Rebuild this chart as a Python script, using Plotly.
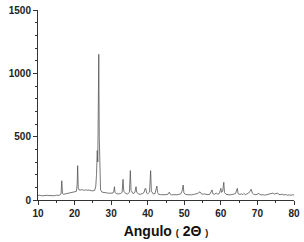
import plotly.graph_objects as go

two_theta = [10.0, 10.5, 11.0, 11.5, 12.0, 12.5, 13.0, 13.5, 14.0, 14.5, 15.0, 15.5, 16.0, 16.3, 16.5, 16.7,
             17.0, 17.5, 18.0, 18.5, 19.0, 19.5, 20.0, 20.5, 20.7, 20.85, 21.0, 21.2, 21.5, 22.0, 22.5, 23.0,
             23.5, 24.0, 24.5, 25.0, 25.5, 25.8, 26.0, 26.2, 26.35, 26.5, 26.62, 26.75, 26.9, 27.1, 27.5,
             28.0, 28.5, 29.0, 29.5, 30.0, 30.5, 30.75, 30.9, 31.05, 31.5, 32.0, 32.5, 33.0, 33.25, 33.45,
             34.0, 34.5, 35.0, 35.25, 35.45, 36.0, 36.5, 36.8, 37.0, 37.5, 38.0, 38.5, 39.0, 39.3, 39.5, 39.7,
             40.0, 40.5, 40.8, 41.0, 41.5, 42.0, 42.5, 42.7, 43.0, 43.5, 44.0, 44.5, 45.0, 45.5, 45.9, 46.2,
             46.5, 47.0, 47.5, 48.0, 48.5, 49.0, 49.4, 49.7, 49.9, 50.3, 50.8, 51.5, 52.0, 52.5, 53.0, 53.5,
             54.0, 54.3, 54.6, 55.0, 55.5, 56.0, 56.5, 57.0, 57.3, 57.6, 57.8, 58.2, 58.8, 59.1, 59.6, 60.0,
             60.2, 60.5, 60.8, 61.0, 61.4, 62.0, 62.5, 63.0, 63.5, 64.0, 64.5, 64.7, 65.2, 65.6, 66.0, 66.3,
             66.7, 67.2, 67.6, 68.0, 68.3, 68.6, 69.0, 69.5, 70.0, 70.3, 70.6, 71.0, 71.5, 72.0, 72.5, 73.0,
             73.5, 74.0, 74.3, 74.6, 75.0, 75.5, 75.8, 76.2, 76.7, 77.2, 77.7, 78.2, 78.7, 79.2, 79.6, 80.0]

intensity = [35, 38, 33, 36, 34, 37, 35, 33, 36, 34, 38, 36, 40, 48, 152, 50,
             45, 48, 50, 52, 55, 58, 60, 68, 120, 271, 95, 80, 78, 82, 76, 80,
             77, 79, 74, 72, 76, 110, 200, 390, 300, 700, 1150, 500, 150, 80, 62,
             58, 56, 55, 53, 52, 55, 70, 105, 60, 50, 48, 50, 60, 163, 70,
             50, 48, 60, 232, 75, 50, 60, 105, 60, 48, 45, 50, 60, 92, 88, 55,
             48, 62, 232, 70, 48, 50, 110, 60, 45, 42, 40, 43, 42, 45, 62, 44,
             40, 42, 39, 41, 44, 48, 70, 118, 55, 45, 42, 40, 41, 44, 46, 50,
             58, 65, 50, 46, 48, 44, 42, 46, 60, 80, 50, 45, 55, 45, 52, 92,
             60, 70, 140, 60, 45, 42, 40, 43, 45, 50, 92, 50, 44, 48, 42, 52,
             42, 48, 55, 70, 85, 55, 45, 42, 45, 55, 44, 40, 42, 38, 41, 44,
             48, 52, 55, 46, 50, 55, 45, 42, 46, 40, 43, 38, 40, 37, 42, 38]

x_ticks = [10, 20, 30, 40, 50, 60, 70, 80]
y_ticks = [0, 500, 1000, 1500]

fig = go.Figure(go.Scatter(x=two_theta, y=intensity, mode="lines",
                           line=dict(color="#555555", width=0.8)))

axis_common = dict(showline=True, linecolor="#333333", linewidth=1, ticks="outside",
                   tickcolor="#333333", ticklen=4, tickwidth=1, showgrid=False, zeroline=False,
                   automargin=False,
                   tickfont=dict(family="Arial, Liberation Sans", size=10, color="#222222"))

fig.update_xaxes(range=[10, 80], tickvals=x_ticks, ticktext=[f"<b>{v}</b>" for v in x_ticks],
                 minor=dict(dtick=5, ticklen=2, tickcolor="#333333", ticks="outside", showgrid=False),
                 title=dict(text="<b>Angulo <span style='font-size:9px'>(</span> 2Θ <span style='font-size:9px'>)</span></b>",
                            font=dict(family="Arial, Liberation Sans", size=14, color="#111111"), standoff=8),
                 **axis_common)
fig.update_yaxes(range=[0, 1500], tickvals=y_ticks, ticktext=[f"<b>{v}</b>" for v in y_ticks],
                 minor=dict(dtick=100, ticklen=2, tickcolor="#333333", ticks="outside", showgrid=False),
                 **axis_common)

fig.update_layout(width=304, height=242, margin=dict(l=38, r=10, t=10, b=42),
                  paper_bgcolor="white", plot_bgcolor="white", showlegend=False)

fig.write_html("out.html", config={"displayModeBar": False},
               post_script="document.body.style.margin='0px';document.body.style.overflow='hidden';")
